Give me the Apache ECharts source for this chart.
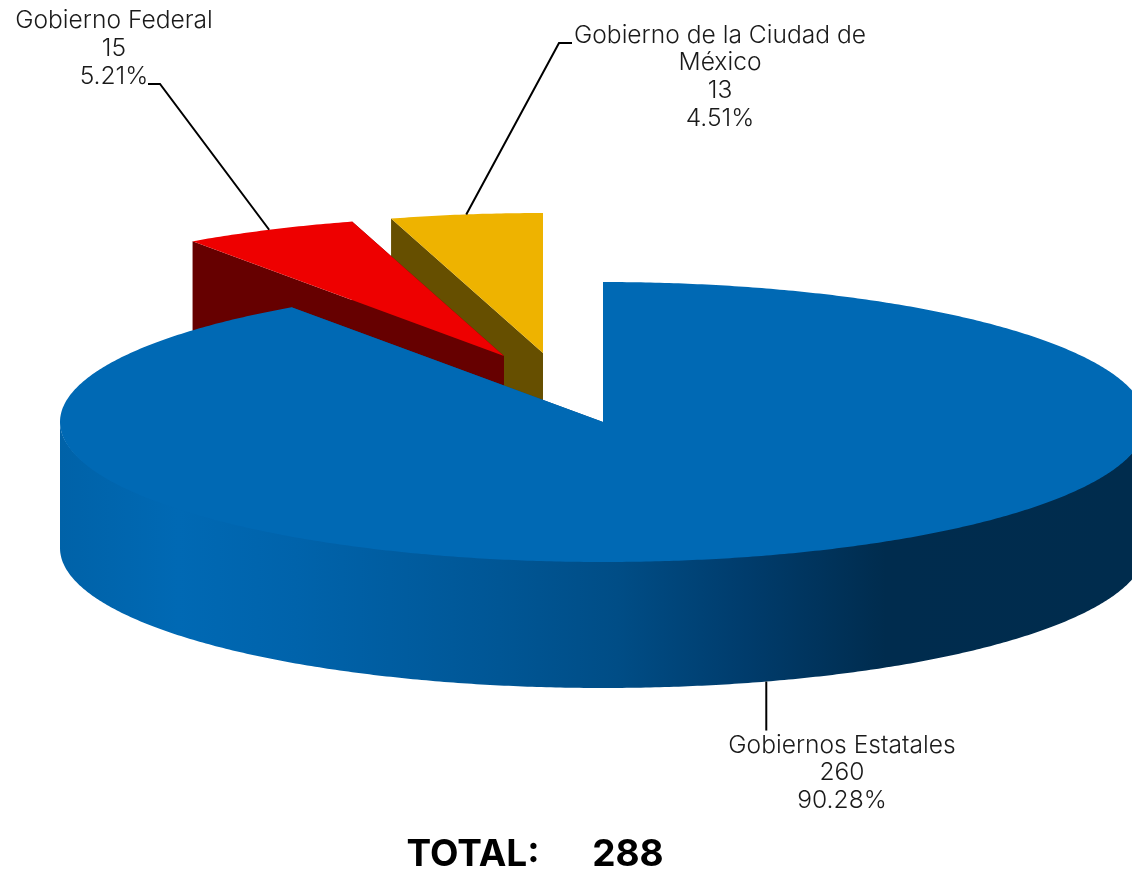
<!DOCTYPE html>
<html>
<head>
<meta charset="utf-8">
<style>html,body{margin:0;padding:0;background:#fff}#c{width:1132px;height:872px}</style>
<script src="https://cdn.jsdelivr.net/npm/echarts@6/dist/echarts.min.js"></script>
</head>
<body>
<div id="c"></div>
<script>
const categories = ['Gobiernos Estatales', 'Gobierno Federal', 'Gobierno de la Ciudad de\nMéxico'];
const values = [260, 15, 13];
const percentLabels = ['90.28%', '5.21%', '4.51%'];
const totalValue = 288;

const topColors = ['#0069b4', '#ee0000', '#eeb300'];
const wallColors = ['#004f8a', '#660000', '#664f00'];
const explodeX = [0, -99, -60];
const explodeY = [0, -66, -69];
const layerZ = [30, 20, 10];
const labelX = [842, 114, 720];
const labelY = [731.5, 7, 21.5];
const leaderEnd = [
  [[0, 49]],
  [[160, 84], [148, 84]],
  [[559, 43], [572, 43]]
];
const C = { x: 603, y: 422, rx: 543, ry: 140, depth: 126 };
const FONT = 'Inter';

const sum = values.reduce((a, b) => a + b, 0);
function pt(cx, cy, deg, dz) {
  const r = deg * Math.PI / 180;
  return [cx + C.rx * Math.sin(r), cy - C.ry * Math.cos(r) + (dz || 0)];
}
function arc(cx, cy, a0, a1, dz) {
  const n = Math.max(2, Math.ceil(Math.abs(a1 - a0) * 2));
  const out = [];
  for (let i = 0; i <= n; i++) out.push(pt(cx, cy, a0 + (a1 - a0) * i / n, dz));
  return out;
}
// upper edge of the outer wall tucked slightly under the top face, so no seam shows
function tuckedArc(cx, cy, a0, a1) {
  return arc(cx, cy, a0, a1, 0).map((p, k, all) => [p[0], p[1] - 4 * Math.sin(Math.PI * k / (all.length - 1))]);
}
const wallGradient = {
  type: 'linear', global: true, x: 60, y: 0, x2: 1132, y2: 0,
  colorStops: [
    { offset: 0, color: '#0062a8' },
    { offset: 0.11, color: '#0069b4' },
    { offset: 0.22, color: '#0063ab' },
    { offset: 0.41, color: '#005695' },
    { offset: 0.52, color: '#004d86' },
    { offset: 0.64, color: '#003c6c' },
    { offset: 0.77, color: '#002c4e' },
    { offset: 1, color: '#002c4d' }
  ]
};

function renderItem(params, api) {
  const i = api.value(0);
  const v = api.value(1);
  let before = 0;
  for (let k = 0; k < i; k++) before += values[k];
  const a0 = before / sum * 360, a1 = (before + v) / sum * 360, mid = (a0 + a1) / 2;
  const cx = C.x + explodeX[i], cy = C.y + explodeY[i];
  const z = layerZ[i];
  const children = [];
  const face = (a) => {
    const p = pt(cx, cy, a);
    return { type: 'polygon', z2: z, silent: true,
      shape: { points: [[cx, cy], p, [p[0], p[1] + C.depth], [cx, cy + C.depth]] },
      style: { fill: wallColors[i] } };
  };
  children.push(face(a1), face(a0));
  const w0 = Math.max(a0, 90), w1 = Math.min(a1, 270);
  if (w1 > w0) {
    children.push({ type: 'polygon', z2: z, silent: true,
      shape: { points: tuckedArc(cx, cy, w0, w1).concat(arc(cx, cy, w1, w0, C.depth)) },
      style: { fill: wallGradient } });
  }
  children.push({ type: 'polygon', z2: z, silent: true,
    shape: { points: [[cx, cy]].concat(arc(cx, cy, a0, a1, 0)) },
    style: { fill: topColors[i] } });

  // leader line, anchored on the slice's mid angle
  const front = mid > 90 && mid < 270;
  const s = pt(cx, cy, mid, front ? C.depth : 0);
  const tail = leaderEnd[i].map(e => (front ? [s[0] + e[0], s[1] + e[1]] : e));
  children.push({ type: 'polyline', z2: 40, silent: true,
    shape: { points: [s].concat(tail) },
    style: { stroke: '#000', lineWidth: 2, fill: null } });
  children.push({ type: 'text', z2: 50, silent: true,
    style: { x: labelX[i], y: labelY[i], text: categories[i] + '\n' + v + '\n' + percentLabels[i],
      font: '300 24.6px ' + FONT, lineHeight: 27.7, fill: '#1a1a1a', align: 'center', verticalAlign: 'top' } });
  return { type: 'group', children };
}

const chart = echarts.init(document.getElementById('c'), null, { renderer: 'canvas' });
chart.setOption({
  animation: false,
  backgroundColor: '#fff',
  title: {
    text: 'TOTAL:      ' + totalValue,
    left: 530, top: 831, textAlign: 'center',
    textStyle: { fontFamily: FONT, fontWeight: 700, fontSize: 37, color: '#000' }
  },
  series: [{
    type: 'custom',
    coordinateSystem: 'none',
    renderItem,
    data: values.map((v, i) => [i, v])
  }]
});
</script>
</body>
</html>
